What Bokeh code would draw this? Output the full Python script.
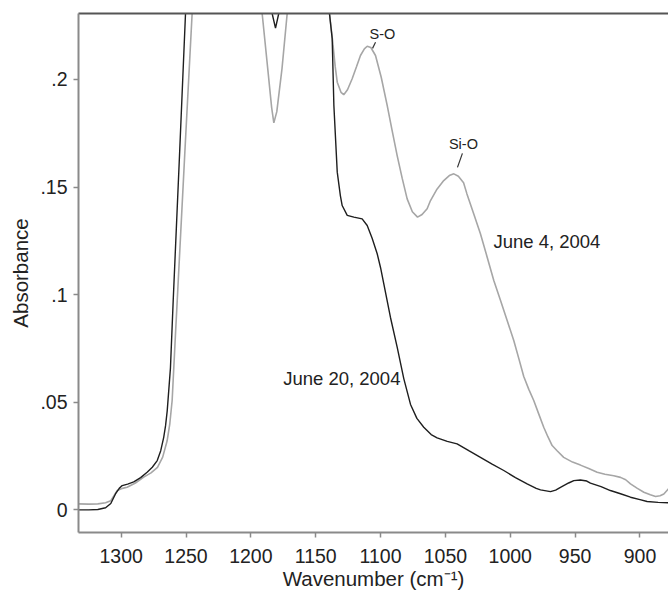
from bokeh.plotting import figure
from bokeh.models import Range1d, LinearAxis, FixedTicker, Label
from bokeh.embed import file_html
from bokeh.resources import INLINE

# ---- data ----
june20_wn = [1333, 1325, 1318, 1312, 1308, 1304.4, 1301.5, 1299.2, 1295, 1290.3, 1285, 1280, 1276,
             1272.2, 1269.5, 1267.2, 1265.8, 1264.5, 1262, 1259.9, 1255, 1250.4, 1247, 1240, 1200,
             1190, 1183.6, 1181, 1178.5, 1172, 1160, 1145, 1139.4, 1137.3, 1136, 1133.4, 1131,
             1129.6, 1125.7, 1120.6, 1114.2, 1110.3, 1106.5, 1102.6, 1100, 1097.5, 1092.4, 1087.2,
             1082.1, 1076.9, 1072, 1066.7, 1061, 1056.4, 1048.6, 1041, 1032, 1023, 1014, 1005,
             996, 987, 980, 976.7, 969, 965, 961.3, 955, 951, 946, 941, 938.2, 930, 922.8, 915,
             907.3, 900, 894.5, 886, 878]
june20_abs = [0.0000, 0.0000, 0.0002, 0.0010, 0.0030, 0.0074, 0.0100, 0.0113, 0.0120, 0.0130, 0.0150,
              0.0175, 0.0198, 0.0229, 0.0275, 0.0337, 0.0390, 0.0460, 0.0660, 0.0970, 0.1650, 0.2305,
              0.2700, 0.3000, 0.3000, 0.2700, 0.2306, 0.2238, 0.2306, 0.2700, 0.3000, 0.2800, 0.2306,
              0.2189, 0.1879, 0.1569, 0.1460, 0.1414, 0.1368, 0.1360, 0.1352, 0.1321, 0.1262, 0.1190,
              0.1125, 0.1050, 0.0895, 0.0756, 0.0610, 0.0490, 0.0425, 0.0384, 0.0350, 0.0335, 0.0318,
              0.0307, 0.0275, 0.0244, 0.0213, 0.0183, 0.0150, 0.0121, 0.0100, 0.0093, 0.0085, 0.0092,
              0.0105, 0.0125, 0.0136, 0.0139, 0.0134, 0.0124, 0.0108, 0.0090, 0.0075, 0.0059, 0.0048,
              0.0039, 0.0035, 0.0033]

june4_wn = [1333, 1325, 1318, 1312, 1308, 1303, 1299, 1295.4, 1289, 1282.6, 1277, 1272, 1268, 1264.6,
            1262.5, 1260.7, 1258.1, 1256.8, 1251, 1245.3, 1241, 1230, 1200, 1194, 1191.3, 1187, 1184,
            1182.3, 1180, 1176, 1172, 1168, 1155, 1143, 1139.4, 1137, 1135, 1133.4, 1130.5, 1128.4,
            1125.5, 1121.9, 1118.5, 1115.5, 1112.5, 1110.3, 1107.5, 1103.9, 1099.5, 1094.9, 1091,
            1087.2, 1083.3, 1079.5, 1075.5, 1071.5, 1068, 1064.1, 1061.5, 1056.5, 1051.3, 1047,
            1043.5, 1040, 1036, 1033.4, 1028.2, 1023, 1017.8, 1012.7, 1007.5, 1002.4, 997.3, 993.5,
            989.6, 985.7, 981.9, 978, 974.2, 971, 967.7, 963.9, 958.8, 952, 945.9, 939.5, 933, 927,
            920.2, 915, 911, 907.3, 902, 897, 892, 888, 884.5, 881.6, 878]
june4_abs = [0.0028, 0.0027, 0.0028, 0.0033, 0.0043, 0.0090, 0.0100, 0.0105, 0.0125, 0.0152, 0.0172,
             0.0198, 0.0245, 0.0320, 0.0400, 0.0508, 0.0820, 0.0970, 0.1650, 0.2305, 0.2700, 0.3000,
             0.3000, 0.2600, 0.2306, 0.2050, 0.1870, 0.1798, 0.1850, 0.2050, 0.2306, 0.2600, 0.2800,
             0.2600, 0.2306, 0.2180, 0.2060, 0.1987, 0.1940, 0.1929, 0.1952, 0.2003, 0.2060, 0.2111,
             0.2142, 0.2154, 0.2148, 0.2111, 0.2010, 0.1879, 0.1760, 0.1646, 0.1540, 0.1445, 0.1385,
             0.1360, 0.1372, 0.1399, 0.1437, 0.1490, 0.1530, 0.1553, 0.1561, 0.1550, 0.1520, 0.1468,
             0.1376, 0.1283, 0.1174, 0.1066, 0.0973, 0.0880, 0.0787, 0.0705, 0.0620, 0.0560, 0.0508,
             0.0445, 0.0384, 0.0340, 0.0299, 0.0275, 0.0244, 0.0222, 0.0208, 0.0192, 0.0175, 0.0166,
             0.0159, 0.0151, 0.0140, 0.0121, 0.0100, 0.0082, 0.0070, 0.0062, 0.0066, 0.0074, 0.0098]

x_ticks = [1300, 1250, 1200, 1150, 1100, 1050, 1000, 950, 900]
y_ticks = [0, 0.05, 0.1, 0.15, 0.2]
y_tick_labels = ["0", ".05", ".1", ".15", ".2"]

FONT = "Liberation Sans"

p = figure(width=668, height=593, output_backend="svg", toolbar_location=None,
           x_range=Range1d(1332.9, 878), y_range=Range1d(-0.0105, 0.2306),
           x_axis_location=None, y_axis_location=None,
           min_border_left=78, min_border_right=0, min_border_top=13, min_border_bottom=61)
p.grid.visible = False
p.outline_line_color = None
p.background_fill_color = "white"
p.border_fill_color = "white"

AX = "#8a8a8a"

xaxis = LinearAxis(ticker=FixedTicker(ticks=x_ticks), axis_label="Wavenumber (cm⁻¹)")
yaxis = LinearAxis(ticker=FixedTicker(ticks=y_ticks), axis_label="Absorbance",
                   major_label_overrides={t: l for t, l in zip(y_ticks, y_tick_labels)})
for ax in (xaxis, yaxis):
    ax.axis_line_color = AX
    ax.axis_line_width = 2
    ax.major_tick_line_color = AX
    ax.major_tick_line_width = 1.5
    ax.major_tick_out = 5
    ax.major_tick_in = 0
    ax.minor_tick_line_color = None
    ax.major_label_text_font = FONT
    ax.major_label_text_font_size = "19.5px"
    ax.major_label_text_color = "#222222"
    ax.axis_label_text_font = FONT
    ax.axis_label_text_font_size = "20.5px"
    ax.axis_label_text_font_style = "normal"
    ax.axis_label_text_color = "#222222"
xaxis.major_label_standoff = 11
xaxis.axis_label_standoff = 1
yaxis.major_label_standoff = 6
yaxis.axis_label_standoff = 5
p.add_layout(xaxis, "below")
p.add_layout(yaxis, "left")

top = LinearAxis(ticker=FixedTicker(ticks=[]), axis_line_color="#555555", axis_line_width=2,
                 major_tick_line_color=None, minor_tick_line_color=None,
                 major_label_text_font_size="0px", major_tick_out=0, minor_tick_out=0,
                 major_label_standoff=0)
p.add_layout(top, "above")

p.line(june4_wn, june4_abs, line_color="#a6a6a6", line_width=1.6)
p.line(june20_wn, june20_abs, line_color="#1e1e1e", line_width=1.4)

# annotations
p.add_layout(Label(x=1013, y=0.1247, text="June 4, 2004", text_font=FONT, text_font_size="18.5px",
                   text_color="#222222", text_align="left", text_baseline="middle"))
p.add_layout(Label(x=1175.1, y=0.0609, text="June 20, 2004", text_font=FONT, text_font_size="18.5px",
                   text_color="#222222", text_align="left", text_baseline="middle"))
p.add_layout(Label(x=1098.5, y=0.2209, text="S-O", text_font=FONT, text_font_size="14.5px",
                   text_color="#222222", text_align="center", text_baseline="middle"))
p.add_layout(Label(x=1036.1, y=0.1698, text="Si-O", text_font=FONT, text_font_size="14.5px",
                   text_color="#222222", text_align="center", text_baseline="middle"))
p.segment(x0=[1106.2, 1040.7], y0=[0.2144, 0.1591], x1=[1103.9, 1036.9], y1=[0.2172, 0.1656],
          line_color="#333333", line_width=1.2)

open("out.html", "w").write(file_html(p, INLINE))
